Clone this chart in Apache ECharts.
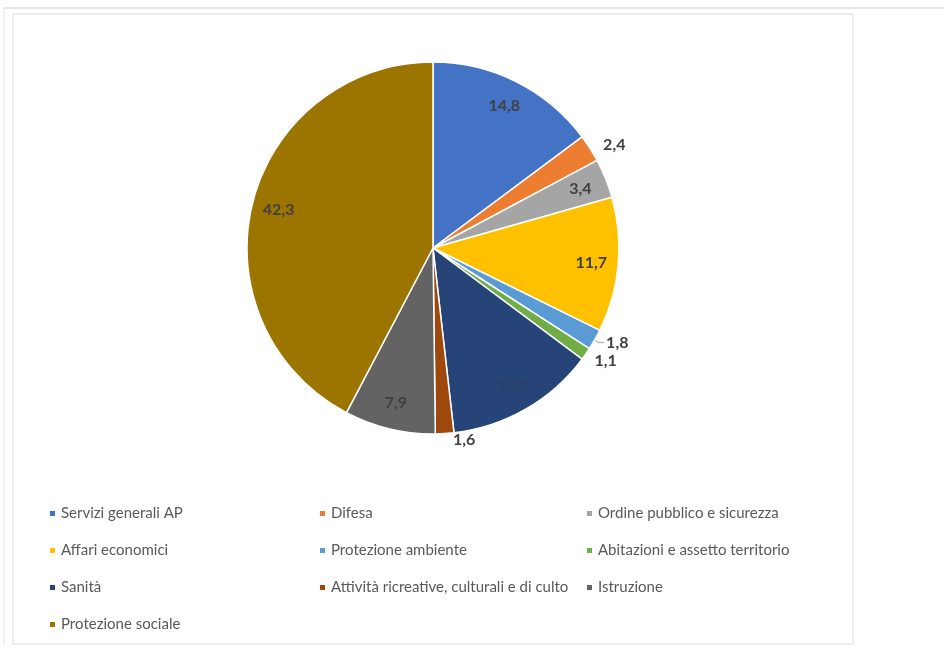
<!DOCTYPE html>
<html>
<head>
<meta charset="utf-8">
<script src="https://cdn.jsdelivr.net/npm/echarts@6/dist/echarts.min.js"></script>
<style>
  html, body { margin: 0; padding: 0; background: #fff; }
  #chart { width: 944px; height: 651px; }
</style>
</head>
<body>
<div id="chart"></div>
<script>
// categorie e valori (%)
var categories = [
  "Servizi generali AP", "Difesa", "Ordine pubblico e sicurezza",
  "Affari economici", "Protezione ambiente", "Abitazioni e assetto territorio",
  "Sanità", "Attività ricreative, culturali e di culto", "Istruzione",
  "Protezione sociale"
];
var values = [14.8, 2.4, 3.4, 11.7, 1.8, 1.1, 13.0, 1.6, 7.9, 42.3];
var colors = ["#4472C4", "#ED7D31", "#A5A5A5", "#FFC000", "#5B9BD5",
  "#70AD47", "#264478", "#9E480E", "#636363", "#9C7400"];
// quali etichette vanno fuori dalla torta
var outsideLabels = ["Difesa", "Protezione ambiente", "Abitazioni e assetto territorio",
  "Attività ricreative, culturali e di culto"];

// colonne della legenda
var legendCol1 = ["Servizi generali AP", "Affari economici", "Sanità", "Protezione sociale"];
var legendCol2 = ["Difesa", "Protezione ambiente", "Attività ricreative, culturali e di culto"];
var legendCol3 = ["Ordine pubblico e sicurezza", "Abitazioni e assetto territorio", "Istruzione"];

var fmt = function (p) {
  return p.value.toFixed(1).replace(".", ",");
};

var pieData = categories.map(function (name, i) {
  return { name: name, value: values[i], itemStyle: { color: colors[i] } };
});

var labelData = categories.map(function (name, i) {
  var out = outsideLabels.indexOf(name) >= 0;
  return {
    name: name,
    value: values[i],
    label: {
      show: !out,
      color: name === "Sanità" ? "#2c3f66" : "#404040"
    }
  };
});

var outData = categories.map(function (name, i) {
  var out = outsideLabels.indexOf(name) >= 0;
  return {
    name: name,
    value: values[i],
    label: { show: out },
    labelLine: { show: name === "Protezione ambiente" }
  };
});

var legendBase = {
  orient: "vertical",
  icon: "rect",
  itemWidth: 7,
  itemHeight: 7,
  itemGap: 22,
  textStyle: { color: "#595959", fontSize: 15, fontFamily: "Lato" }
};

var myChart = echarts.init(document.getElementById("chart"));
var option = {
  animation: false,
  graphic: [
    { type: "line", shape: { x1: 4, y1: 8, x2: 944, y2: 8 }, style: { stroke: "#d0d0d0", lineWidth: 1 } },
    { type: "line", shape: { x1: 4, y1: 8, x2: 4, y2: 646 }, style: { stroke: "#e6e6e6", lineWidth: 1 } },
    { type: "rect", shape: { x: 13, y: 14, width: 840, height: 630 }, style: { fill: "none", stroke: "#dcdcdc", lineWidth: 1 } }
  ],
  legend: [
    Object.assign({ left: 43, top: 501, data: legendCol1 }, legendBase),
    Object.assign({ left: 313, top: 501, data: legendCol2 }, legendBase),
    Object.assign({ left: 580, top: 501, data: legendCol3 }, legendBase)
  ],
  series: [
    {
      name: "spesa",
      type: "pie",
      center: [433, 248],
      radius: 186,
      startAngle: 90,
      clockwise: true,
      label: { show: false },
      labelLine: { show: false },
      itemStyle: { borderColor: "#fff", borderWidth: 1.5 },
      emphasis: { disabled: true },
      data: pieData
    },
    {
      // etichette interne a circa l'80% del raggio
      name: "etichette",
      type: "pie",
      silent: true,
      center: [433, 248],
      radius: [126, 186],
      startAngle: 90,
      itemStyle: { color: "transparent" },
      label: {
        show: true,
        position: "inside",
        formatter: fmt,
        fontSize: 16,
        fontWeight: "bold",
        fontFamily: "Lato"
      },
      labelLine: { show: false },
      emphasis: { disabled: true },
      data: labelData
    },
    {
      name: "esterne",
      type: "pie",
      silent: true,
      center: [433, 248],
      radius: 186,
      startAngle: 90,
      itemStyle: { color: "transparent" },
      label: {
        position: "outside",
        formatter: fmt,
        fontSize: 16,
        fontWeight: "bold",
        fontFamily: "Lato",
        color: "#404040",
        distanceToLabelLine: 2
      },
      labelLine: {
        length: 6,
        length2: 6,
        lineStyle: { color: "#a6a6a6", width: 1 }
      },
      emphasis: { disabled: true },
      data: outData
    }
  ]
};
myChart.setOption(option);
window.addEventListener("resize", function () {
  myChart.resize();
});
</script>
</body>
</html>
